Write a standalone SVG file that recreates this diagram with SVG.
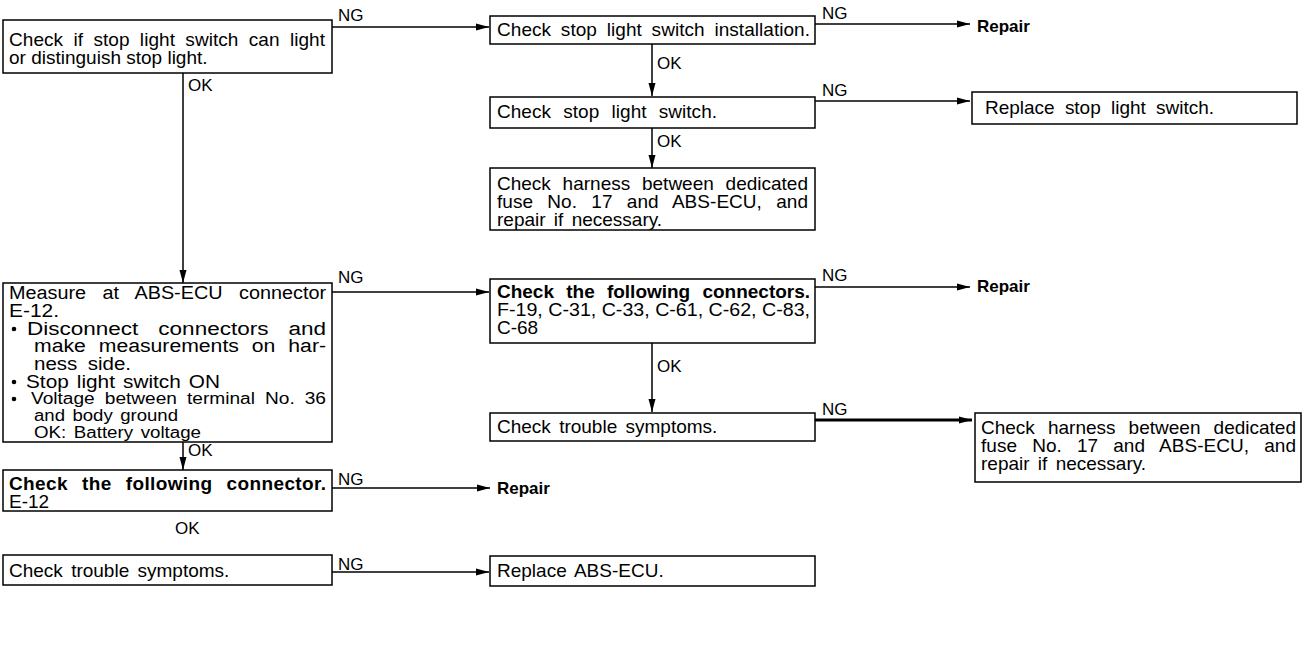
<svg xmlns="http://www.w3.org/2000/svg" width="1304" height="658" viewBox="0 0 1304 658">
<style>
.box{fill:#fff;stroke:#000;stroke-width:1.5}
.t{font-family:"Liberation Sans",Arial,sans-serif;font-size:19px;fill:#000}
.b{font-weight:bold}
.r{font-size:17px;font-weight:bold}
.m{font-size:18px}
.s{font-size:16px}
.lbl{font-family:"Liberation Sans",Arial,sans-serif;font-size:17px;fill:#000}
.c{fill:none;stroke:#000;stroke-width:1.5}
.thick{stroke-width:3}
</style>
<defs>
<marker id="ah" markerUnits="userSpaceOnUse" markerWidth="14" markerHeight="10" refX="13" refY="5" orient="auto">
<path d="M0,1.5 L13,5 L0,8.5 Z" fill="#000"/>
</marker>
</defs>

<g id="connectors">
<line class="c" x1="332" y1="27" x2="489" y2="27" marker-end="url(#ah)"/>
<line class="c" x1="183" y1="73" x2="183" y2="283" marker-end="url(#ah)"/>
<line class="c" x1="815" y1="24" x2="970" y2="24" marker-end="url(#ah)"/>
<line class="c" x1="652" y1="44" x2="652" y2="96" marker-end="url(#ah)"/>
<line class="c" x1="815" y1="101" x2="970" y2="101" marker-end="url(#ah)"/>
<line class="c" x1="652" y1="128" x2="652" y2="168" marker-end="url(#ah)"/>
<line class="c" x1="332" y1="292" x2="489" y2="292" marker-end="url(#ah)"/>
<line class="c" x1="815" y1="287" x2="970" y2="287" marker-end="url(#ah)"/>
<line class="c" x1="652" y1="343" x2="652" y2="412" marker-end="url(#ah)"/>
<line class="c thick" x1="815" y1="420" x2="972" y2="420" marker-end="url(#ah)"/>
<line class="c" x1="183" y1="442" x2="183" y2="470" marker-end="url(#ah)"/>
<line class="c" x1="332" y1="488" x2="490" y2="488" marker-end="url(#ah)"/>
<line class="c" x1="332" y1="572" x2="489" y2="572" marker-end="url(#ah)"/>
<text class="lbl" x="338" y="21">NG</text>
<text class="lbl" x="188" y="91">OK</text>
<text class="lbl" x="822" y="19">NG</text>
<text class="lbl" x="657" y="69">OK</text>
<text class="lbl" x="822" y="96">NG</text>
<text class="lbl" x="657" y="147">OK</text>
<text class="lbl" x="338" y="283">NG</text>
<text class="lbl" x="822" y="281">NG</text>
<text class="lbl" x="657" y="372">OK</text>
<text class="lbl" x="822" y="415">NG</text>
<text class="lbl" x="188" y="456">OK</text>
<text class="lbl" x="338" y="485">NG</text>
<text class="lbl" x="175" y="534">OK</text>
<text class="lbl" x="338" y="570">NG</text>
</g>

<g id="n1">
<rect class="box" x="3" y="20" width="329" height="53"/>
<text class="t" x="9" y="46" word-spacing="5" textLength="316" lengthAdjust="spacing">Check if stop light switch can light</text>
<text class="t" x="9" y="64">or distinguish stop light.</text>
</g>

<g id="n2">
<rect class="box" x="490" y="16" width="325" height="28"/>
<text class="t" x="497" y="36" word-spacing="4.5" textLength="313" lengthAdjust="spacing">Check stop light switch installation.</text>
</g>

<g id="n3">
<text class="t r" x="977" y="32">Repair</text>
</g>

<g id="n4">
<rect class="box" x="490" y="97" width="325" height="31"/>
<text class="t" x="497" y="118" word-spacing="7" textLength="220" lengthAdjust="spacing">Check stop light switch.</text>
</g>

<g id="n5">
<rect class="box" x="972" y="92" width="325" height="32"/>
<text class="t" x="985" y="114" word-spacing="5" textLength="229" lengthAdjust="spacing">Replace stop light switch.</text>
</g>

<g id="n6">
<rect class="box" x="490" y="168" width="325" height="62"/>
<text class="t" x="497" y="190" word-spacing="6.5" textLength="311" lengthAdjust="spacing">Check harness between dedicated</text>
<text class="t" x="497" y="208" word-spacing="9" textLength="311" lengthAdjust="spacing">fuse No. 17 and ABS-ECU, and</text>
<text class="t" x="497" y="226" word-spacing="3">repair if necessary.</text>
</g>

<g id="n7">
<rect class="box" x="3" y="283" width="329" height="159"/>
<text class="t m" x="9" y="299" word-spacing="10" textLength="317" lengthAdjust="spacingAndGlyphs">Measure at ABS-ECU connector</text>
<text class="t m" x="9" y="317" textLength="50" lengthAdjust="spacingAndGlyphs">E-12.</text>
<circle cx="14" cy="329" r="2.3" fill="#000"/>
<text class="t m" x="27" y="335" word-spacing="11" textLength="299" lengthAdjust="spacingAndGlyphs">Disconnect connectors and</text>
<text class="t m" x="34" y="352" word-spacing="6" textLength="292" lengthAdjust="spacingAndGlyphs">make measurements on har-</text>
<text class="t m" x="34" y="370" word-spacing="4" textLength="97" lengthAdjust="spacingAndGlyphs">ness side.</text>
<circle cx="14" cy="382" r="2.3" fill="#000"/>
<text class="t m" x="26" y="388" word-spacing="2" textLength="194" lengthAdjust="spacingAndGlyphs">Stop light switch ON</text>
<circle cx="14" cy="399" r="2.3" fill="#000"/>
<text class="t s" x="31" y="404" word-spacing="4" textLength="295" lengthAdjust="spacingAndGlyphs">Voltage between terminal No. 36</text>
<text class="t s" x="34" y="421" word-spacing="2" textLength="144" lengthAdjust="spacingAndGlyphs">and body ground</text>
<text class="t s" x="34" y="438" word-spacing="2" textLength="167" lengthAdjust="spacingAndGlyphs">OK: Battery voltage</text>
</g>

<g id="n8">
<rect class="box" x="490" y="279" width="325" height="64"/>
<text class="t b" x="497" y="298" word-spacing="7" textLength="313" lengthAdjust="spacing">Check the following connectors.</text>
<text class="t" x="497" y="316" textLength="313" lengthAdjust="spacingAndGlyphs">F-19, C-31, C-33, C-61, C-62, C-83,</text>
<text class="t" x="497" y="334">C-68</text>
</g>

<g id="n9">
<text class="t r" x="977" y="292">Repair</text>
</g>

<g id="n10">
<rect class="box" x="490" y="413" width="325" height="28"/>
<text class="t" x="497" y="433" word-spacing="3">Check trouble symptoms.</text>
</g>

<g id="n11">
<rect class="box" x="975" y="413" width="326" height="69"/>
<text class="t" x="981" y="434" word-spacing="7.8" textLength="315" lengthAdjust="spacing">Check harness between dedicated</text>
<text class="t" x="981" y="452" word-spacing="9.8" textLength="315" lengthAdjust="spacing">fuse No. 17 and ABS-ECU, and</text>
<text class="t" x="981" y="470" word-spacing="3">repair if necessary.</text>
</g>

<g id="n12">
<rect class="box" x="3" y="470" width="329" height="41"/>
<text class="t b" x="9" y="490" word-spacing="8.5" textLength="317" lengthAdjust="spacing">Check the following connector.</text>
<text class="t" x="9" y="508">E-12</text>
</g>

<g id="n13">
<text class="t r" x="497" y="494">Repair</text>
</g>

<g id="n14">
<rect class="box" x="3" y="555" width="329" height="30"/>
<text class="t" x="9" y="577" word-spacing="3">Check trouble symptoms.</text>
</g>

<g id="n15">
<rect class="box" x="490" y="556" width="325" height="30"/>
<text class="t" x="497" y="577" word-spacing="3">Replace ABS-ECU.</text>
</g>
</svg>
